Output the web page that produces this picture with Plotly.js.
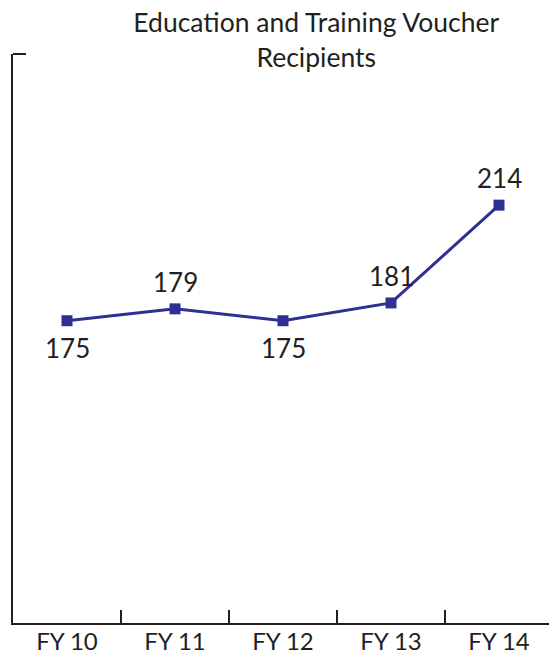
<!DOCTYPE html>
<html>
<head>
<meta charset="utf-8">
<script src="https://cdn.plot.ly/plotly-3.0.1.min.js"></script>
<style>html,body{margin:0;padding:0;background:#fff;}#chart{width:549px;height:656px;}</style>
</head>
<body>
<div id="chart"></div>
<script>
const categories = ["FY 10", "FY 11", "FY 12", "FY 13", "FY 14"];
const recipients = [175, 179, 175, 181, 214];
const labelSide = [1, -1, 1, -1, -1]; // 1 = label below point, -1 = above
const chartTitle = "Education and Training Voucher<br>Recipients";

const navy = "#2e3192";
const ink = "#231f20";
const fontFam = "Lato, 'Noto Sans', sans-serif";

const trace = {
  type: "scatter",
  mode: "lines+markers",
  x: categories,
  y: recipients,
  line: {color: navy, width: 3},
  marker: {symbol: "square", size: 11, color: navy},
  cliponaxis: false,
  hoverinfo: "skip"
};

const valueLabels = categories.map((c, i) => ({
  x: c, y: recipients[i], xref: "x", yref: "y",
  text: String(recipients[i]),
  showarrow: false,
  xanchor: "center", yanchor: "middle",
  yshift: -27 * labelSide[i],
  font: {family: fontFam, size: 26, color: ink}
}));

const layout = {
  width: 549,
  height: 656,
  margin: {l: 13, r: 0, t: 54, b: 33},
  paper_bgcolor: "#fff",
  plot_bgcolor: "#fff",
  showlegend: false,
  font: {family: fontFam, color: ink},
  title: {
    text: chartTitle,
    font: {family: fontFam, size: 26.5, color: ink},
    x: 0.576, xanchor: "center",
    yref: "container", y: 0.951, yanchor: "bottom"
  },
  xaxis: {
    type: "category",
    range: [-0.5, 4.463],
    showline: true, linecolor: ink, linewidth: 2,
    ticks: "inside", tickson: "boundaries", ticklen: 13, tickwidth: 1.5, tickcolor: ink,
    showgrid: false, zeroline: false,
    tickfont: {family: fontFam, size: 24, color: ink},
    ticklabelstandoff: -4,
    fixedrange: true
  },
  yaxis: {
    range: [73, 265],
    showline: true, linecolor: ink, linewidth: 2,
    showticklabels: false, ticks: "",
    showgrid: false, zeroline: false,
    fixedrange: true
  },
  annotations: valueLabels,
  shapes: [
    {type: "line", xref: "paper", yref: "paper", x0: 0, x1: 13/536, y0: 1, y1: 1,
     line: {color: ink, width: 2}}
  ]
};

Plotly.newPlot("chart", [trace], layout, {displayModeBar: false, staticPlot: true});
</script>
</body>
</html>
